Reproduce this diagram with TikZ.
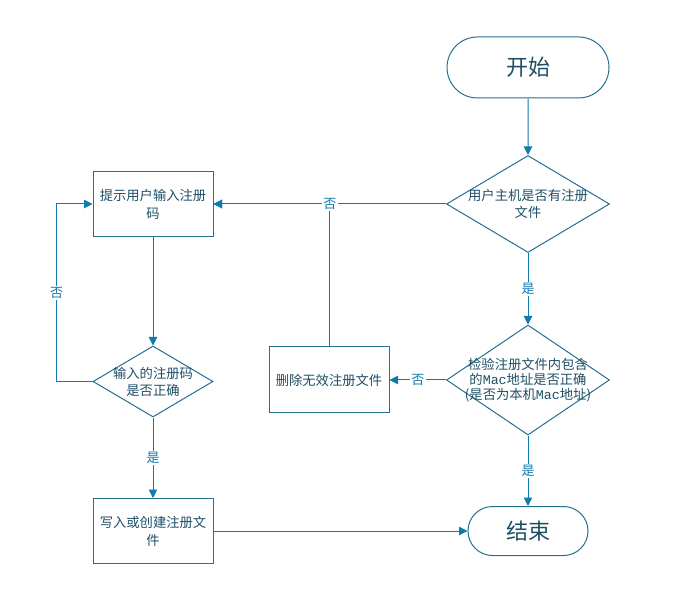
\documentclass[tikz,border=0pt]{standalone}
\usepackage{fontspec}
\setmainfont{Noto Sans CJK SC}
\setmonofont{Liberation Mono}
\usepackage{tikz}
\usetikzlibrary{arrows.meta, positioning, shapes.geometric, shapes.misc}
\usepackage{xcolor}
\definecolor{linecol}{RGB}{16,122,172}
\definecolor{bordercol}{RGB}{35,110,145}
\definecolor{textcol}{RGB}{30,78,102}

\begin{document}
\begin{tikzpicture}[x=1pt, y=-1pt,
termnode/.style={rounded rectangle, draw=bordercol, line width=1pt, text=textcol, inner sep=0pt, font=\fontsize{22}{26}\selectfont},
boxnode/.style={rectangle, draw=bordercol, line width=1pt, text=textcol, inner sep=0pt, minimum width=120pt, minimum height=65pt, align=center, font=\fontsize{13.3}{18}\selectfont},
decnode/.style={diamond, draw=bordercol, line width=1pt, inner sep=0pt},
dectext/.style={text=textcol, align=center, inner sep=0pt, font=\fontsize{13.3}{17}\selectfont},
arrow/.style={draw=linecol, line width=1pt, -{Triangle[width=8.5pt, length=8.5pt]}},
lbl/.style={fill=white, text=linecol, inner sep=1.5pt, font=\fontsize{13}{15}\selectfont},
]
\useasboundingbox (0,0) rectangle (683,601);
%Nodes
\node[termnode, minimum width=162pt, minimum height=61pt] (Start) at (528,67.5) {开始};
\node[decnode, minimum width=163pt, minimum height=97pt,
  label={[dectext]center:{用户主机是否有注册\\文件}}] (HasFile) at (528,204) {};
\node[decnode, minimum width=163pt, minimum height=110pt,
  label={[dectext, font=\fontsize{13.3}{15}\selectfont]center:{检验注册文件内包含\\的{\ttfamily Mac}地址是否正确\\(是否为本机{\ttfamily Mac}地址)}}] (CheckMac) at (528,380) {};
\node[termnode, minimum width=120pt, minimum height=49pt] (End) at (528,531) {结束};
\node[boxnode] (AskCode) at (153,204) {提示用户输入注册\\码};
\node[decnode, minimum width=120pt, minimum height=71pt,
  label={[dectext]center:{输入的注册码\\是否正确}}] (CodeOk) at (153,381.5) {};
\node[boxnode] (WriteFile) at (153,531) {写入或创建注册文\\件};
\node[boxnode, minimum height=66pt] (DelFile) at (329,380) {删除无效注册文件};
%Edges
\draw[arrow] (Start) -- (HasFile);
\draw[arrow] (DelFile) |- (AskCode);
\draw[arrow] (HasFile) -- node[lbl] {否} (AskCode);
\draw[arrow] (HasFile) -- node[lbl] {是} (CheckMac);
\draw[arrow] (CheckMac) -- node[lbl] {否} (DelFile);
\draw[arrow] (CheckMac) -- node[lbl] {是} (End);
\draw[arrow] (AskCode) -- (CodeOk);
\draw[arrow] (CodeOk.west) -- ++(-36,0) |- node[lbl, pos=0.25] {否} (AskCode.west);
\draw[arrow] (CodeOk) -- node[lbl] {是} (WriteFile);
\draw[arrow] (WriteFile) -- (End);
\end{tikzpicture}
\end{document}
